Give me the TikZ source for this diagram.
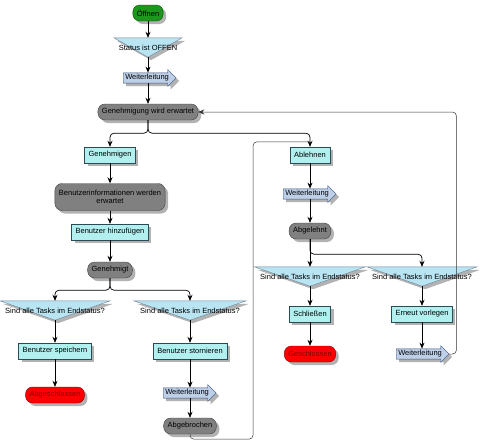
\documentclass[tikz,border=0pt]{standalone}
\usepackage{fontspec}
\setmainfont{Liberation Sans}
\usetikzlibrary{shapes.arrows,shadows,arrows.meta,backgrounds,calc}

\definecolor{taskfill}{RGB}{178,240,240}
\definecolor{taskline}{RGB}{40,75,85}
\definecolor{startfill}{RGB}{30,150,30}
\definecolor{fwdfill}{RGB}{190,208,232}
\definecolor{fwdline}{RGB}{60,80,120}
\definecolor{decfill}{RGB}{185,228,242}
\definecolor{decline}{RGB}{110,130,150}

\begin{document}
\begin{tikzpicture}[x=1pt,y=-1pt,
    font=\fontsize{7.5}{8.5}\selectfont,
    every node/.style={inner xsep=4pt,inner ysep=1pt,minimum height=16pt},
    boxshadow/.style={drop shadow={shadow xshift=3pt,shadow yshift=-3pt,fill=black,opacity=0.3}},
    task/.style={draw=taskline,fill=taskfill,boxshadow},
    state/.style={draw=black!75,fill=black!50,rounded corners=7pt,boxshadow},
    startstate/.style={state,draw=green!30!black,fill=startfill},
    endstate/.style={state,draw=red!50!black,fill=red,text=red!50!black},
    fwd/.style={single arrow,draw=fwdline,fill=fwdfill,single arrow head extend=3pt,
      minimum height=53pt,minimum width=17pt,inner sep=1pt,anchor=tail,boxshadow},
    decide/.style={minimum height=19pt,inner sep=0pt},
    flow/.style={draw,line width=0.7pt,rounded corners=4pt,-{Stealth[length=6pt,width=5pt]}},
    back/.style={flow,line width=0.5pt,draw=black!80}
  ]
  \useasboundingbox (0,0) rectangle (480,442);

  % main column
  \node[startstate] (oeffnen) at (148,13) {Öffnen};
  \node[decide,minimum width=68pt] (status) at (148,47.5) {Status ist OFFEN};
  \node[fwd] (wlOne) at (123,78) {Weiterleitung};
  \node[state] (wartet) at (148,112) {Genehmigung wird erwartet};

  % approve branch
  \node[task] (genehmigen) at (110,155) {Genehmigen};
  \node[state,align=center,minimum height=27pt] (infowartet) at (110,197) {Benutzerinformationen werden\\erwartet};
  \node[task] (hinzu) at (110,232) {Benutzer hinzufügen};
  \node[state] (genehmigt) at (110,270) {Genehmigt};
  \node[decide,minimum width=110pt] (endOne) at (55,310.5) {Sind alle Tasks im Endstatus?};
  \node[decide,minimum width=112pt] (endTwo) at (190,310.5) {Sind alle Tasks im Endstatus?};
  \node[task] (speichern) at (55,351) {Benutzer speichern};
  \node[endstate] (abgeschlossen) at (55,395) {Abgeschlossen};
  \node[task] (stornieren) at (190,351) {Benutzer stornieren};
  \node[fwd] (wlThree) at (163,393) {Weiterleitung};
  \node[state] (abgebrochen) at (190,426) {Abgebrochen};

  % reject branch
  \node[task] (ablehnen) at (310,155) {Ablehnen};
  \node[fwd] (wlTwo) at (283,194) {Weiterleitung};
  \node[state] (abgelehnt) at (310,231) {Abgelehnt};
  \node[decide,minimum width=111pt] (endThree) at (310,276.5) {Sind alle Tasks im Endstatus?};
  \node[decide,minimum width=110pt] (endFour) at (422,276.5) {Sind alle Tasks im Endstatus?};
  \node[task] (schliessen) at (310,314) {Schließen};
  \node[endstate] (geschlossen) at (310,354) {Geschlossen};
  \node[task] (erneut) at (422,314) {Erneut vorlegen};
  \node[fwd] (wlFour) at (396,354) {Weiterleitung};

  \coordinate (merge) at ($(ablehnen.north)+(0,-5)$);

  % decision triangles behind their texts
  \begin{scope}[on background layer]
    \foreach \d in {status,endOne,endTwo,endThree,endFour} {
      \fill[black,opacity=0.3] ($(\d.north west)+(3,3)$) -- ($(\d.north east)+(3,3)$) -- ($(\d.south)+(3,3)$) -- cycle;
      \filldraw[fill=decfill,draw=decline] (\d.north west) -- (\d.north east) -- (\d.south) -- cycle;
    }
  \end{scope}

  \draw[flow] (oeffnen) -- (status.north);
  \draw[flow] (status.south) -- (status.south |- wlOne.north);
  \draw[flow] (status.south |- wlOne.south) -- (wartet.north);
  \draw[flow] (wartet.south) -- ++(0,13) -| (genehmigen.north);
  \draw[flow] (wartet.south) -- ++(0,13) -| (ablehnen.north);
  %
  \draw[flow] (genehmigen) -- (infowartet);
  \draw[flow] (infowartet) -- (hinzu);
  \draw[flow] (hinzu) -- (genehmigt);
  \draw[flow] (genehmigt.south) -- ++(0,12) -| (endOne.north);
  \draw[flow] (genehmigt.south) -- ++(0,12) -| (endTwo.north);
  \draw[flow] (endOne.south) -- (speichern);
  \draw[flow] (speichern) -- (abgeschlossen);
  \draw[flow] (endTwo.south) -- (stornieren);
  \draw[flow] (stornieren) -- (stornieren |- wlThree.north);
  \draw[flow] (stornieren |- wlThree.south) -- (abgebrochen);
  \draw[back,-] (abgebrochen.south) |- ++(63,5) |- (merge); %loop back
  %
  \draw[flow] (ablehnen) -- (ablehnen |- wlTwo.north);
  \draw[flow] (ablehnen |- wlTwo.south) -- (abgelehnt);
  \draw[flow] (abgelehnt.south) -- (endThree.north);
  \draw[flow] (abgelehnt.south) -- ++(0,15) -| (endFour.north);
  \draw[flow] (endThree.south) -- (schliessen);
  \draw[flow] (schliessen) -- (geschlossen);
  \draw[flow] (endFour.south) -- (erneut);
  \draw[flow] (erneut) -- (erneut |- wlFour.north);
  \draw[back] (wlFour.tip) -- ++(7,0) |- (wartet.east); %loop back
\end{tikzpicture}
\end{document}
